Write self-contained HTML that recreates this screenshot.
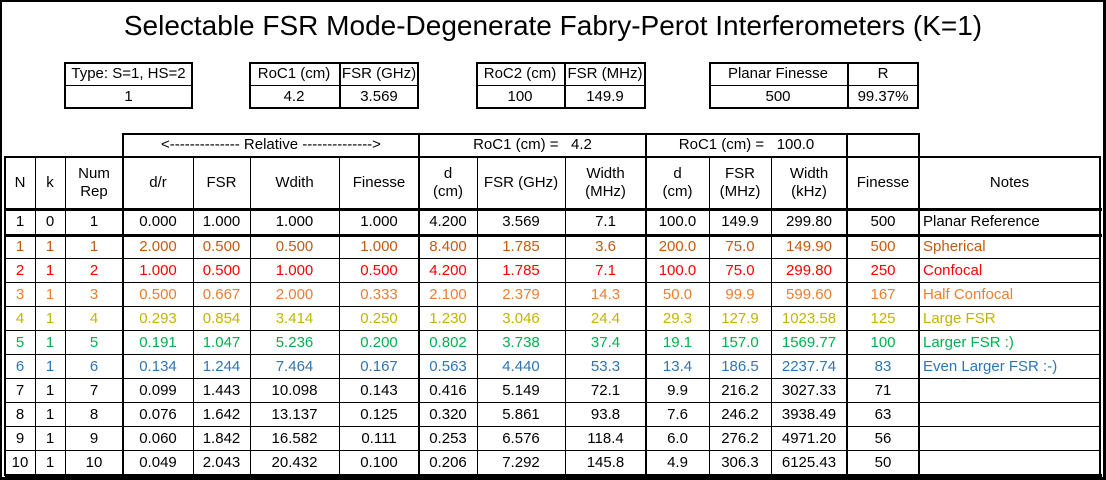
<!DOCTYPE html>
<html><head><meta charset="utf-8">
<style>
html,body{margin:0;padding:0;background:#fff;}
#root{position:relative;width:1106px;height:480px;overflow:hidden;font-family:"Liberation Sans",sans-serif;color:#000;}
.c{position:absolute;display:flex;align-items:center;justify-content:center;text-align:center;font-size:15px;line-height:18px;white-space:nowrap;}
.l{position:absolute;background:#000;}
</style></head><body>
<div id="root">
<div class="l" style="left:0;top:0;width:1106px;height:2px"></div>
<div class="l" style="left:0;top:0;width:2px;height:480px"></div>
<div class="l" style="left:1103px;top:0;width:3px;height:480px"></div>
<div class="l" style="left:0;top:477px;width:1106px;height:3px"></div>
<div class="c" style="left:0;top:7px;width:1106px;height:38px;font-size:28px;line-height:32px;">Selectable FSR Mode-Degenerate Fabry-Perot Interferometers (K=1)</div>
</div>
<script>
const colX=[5,35,65,123,193,250,339,419,477,565,646,709,771,847,919,1100];
const headers=["N","k","Num<br>Rep","d/r","FSR","Wdith","Finesse","d<br>(cm)","FSR (GHz)","Width<br>(MHz)","d<br>(cm)","FSR<br>(MHz)","Width<br>(kHz)","Finesse","Notes"];
const rowN=["1","1","2","3","4","5","6","7","8","9","10"];
const rowK=["0","1","1","1","1","1","1","1","1","1","1"];
const rowRep=["1","1","2","3","4","5","6","7","8","9","10"];
const relDr=["0.000","2.000","1.000","0.500","0.293","0.191","0.134","0.099","0.076","0.060","0.049"];
const relFsr=["1.000","0.500","0.500","0.667","0.854","1.047","1.244","1.443","1.642","1.842","2.043"];
const relWidth=["1.000","0.500","1.000","2.000","3.414","5.236","7.464","10.098","13.137","16.582","20.432"];
const relFin=["1.000","1.000","0.500","0.333","0.250","0.200","0.167","0.143","0.125","0.111","0.100"];
const d1=["4.200","8.400","4.200","2.100","1.230","0.802","0.563","0.416","0.320","0.253","0.206"];
const fsr1=["3.569","1.785","1.785","2.379","3.046","3.738","4.440","5.149","5.861","6.576","7.292"];
const w1=["7.1","3.6","7.1","14.3","24.4","37.4","53.3","72.1","93.8","118.4","145.8"];
const d2=["100.0","200.0","100.0","50.0","29.3","19.1","13.4","9.9","7.6","6.0","4.9"];
const fsr2=["149.9","75.0","75.0","99.9","127.9","157.0","186.5","216.2","246.2","276.2","306.3"];
const w2=["299.80","149.90","299.80","599.60","1023.58","1569.77","2237.74","3027.33","3938.49","4971.20","6125.43"];
const finesse=["500","500","250","167","125","100","83","71","63","56","50"];
const notes=["Planar Reference","Spherical","Confocal","Half Confocal","Large FSR","Larger FSR :)","Even Larger FSR :-)","","","",""];
const rowColors=["#000","#C55A11","#FF0000","#ED7D31","#C4B400","#00B050","#2E75B6","#000","#000","#000","#000"];

const root=document.getElementById('root');
function cell(x,y,w,h,html,name,extra){
  const d=document.createElement('div');
  d.className='c';
  
  
  d.style.left=x+'px';d.style.top=y+'px';d.style.width=w+'px';d.style.height=h+'px';
  if(extra) d.style.cssText+=extra;
  d.innerHTML=html;
  root.appendChild(d);
  return d;
}
function line(x,y,w,h,name){
  const d=document.createElement('div');
  d.className='l';
  
  
  d.style.left=x+'px';d.style.top=y+'px';d.style.width=w+'px';d.style.height=h+'px';
  root.appendChild(d);
}
function box(x,y,w,h,t,name){
  line(x,y,w,t,name+'-top');line(x,y+h-t,w,t,name+'-bottom');
  line(x,y,t,h,name+'-left');line(x+w-t,y,t,h,name+'-right');
}
const params=[
 {x:64,w:[129],labels:["Type: S=1, HS=2"],vals:["1"],name:"type-box"},
 {x:249,w:[90,80],labels:["RoC1 (cm)","FSR (GHz)"],vals:["4.2","3.569"],name:"roc1-box"},
 {x:476,w:[88,82],labels:["RoC2 (cm)","FSR (MHz)"],vals:["100","149.9"],name:"roc2-box"},
 {x:709,w:[138,72],labels:["Planar Finesse","R"],vals:["500","99.37%"],name:"finesse-box"}
];
params.forEach(p=>{
  let x=p.x;const tot=p.w.reduce((a,b)=>a+b,0);
  box(p.x,62,tot,47,2,p.name);
  line(p.x,85,tot,1,p.name+'-divider');
  p.w.forEach((w,i)=>{
    if(i>0) line(x,62,2,47,p.name+'-vline');
    cell(x,62,w,23,p.labels[i],p.name+'-label');
    cell(x,85,w,23,p.vals[i],p.name+'-value');
    x+=w;
  });
});
const gTop=133,hTop=157,dTop=209,r1=235,rh=24,bot=475;
cell(123,gTop,296,24,"&lt;-------------- Relative --------------&gt;","relative-group-header");
cell(419,gTop,227,24,"RoC1 (cm) = &nbsp;&nbsp;4.2","roc1-group-header");
cell(646,gTop,201,24,"RoC1 (cm) = &nbsp;&nbsp;100.0","roc2-group-header");
line(123,gTop,796,2,'group-top-line');
[123,419,646,847,919].forEach(x=>line(x-1,gTop,2,hTop-gTop,'group-vline'));
headers.forEach((h,i)=>cell(colX[i],hTop,colX[i+1]-colX[i],dTop-hTop,h,'header-'+i));
const cols=[rowN,rowK,rowRep,relDr,relFsr,relWidth,relFin,d1,fsr1,w1,d2,fsr2,w2,finesse];
for(let r=0;r<rowN.length;r++){
  const y=r===0?dTop:r1+(r-1)*rh, h=r===0?r1-dTop:rh;
  cols.forEach((arr,i)=>cell(colX[i],y,colX[i+1]-colX[i],h,arr[r],'cell-r'+r+'-c'+i,'color:'+rowColors[r]));
  cell(colX[14]+4,y,colX[15]-colX[14]-4,h,notes[r],'note-r'+r,'justify-content:flex-start;color:'+rowColors[r]);
  if(r>0) line(5,y+h-1,1095,1,'row-line');
}
line(5,hTop-1,1095,2,'header-top-line');
line(5,dTop-1,1097,3,'row1-top-line');
line(5,r1-1,1097,3,'row1-bottom-line');
line(5,bot-1,1097,3,'table-bottom-line');
line(4,hTop-1,2,bot-hTop+2,'table-left-line');
line(1099,hTop-1,2,bot-hTop+2,'table-right-line');
for(let i=1;i<colX.length-1;i++){
  const thick=[123,419,646,847,919].includes(colX[i]);
  line(colX[i]-(thick?1:0),hTop,thick?2:1,bot-hTop,'col-line');
}
</script>
</body></html>
